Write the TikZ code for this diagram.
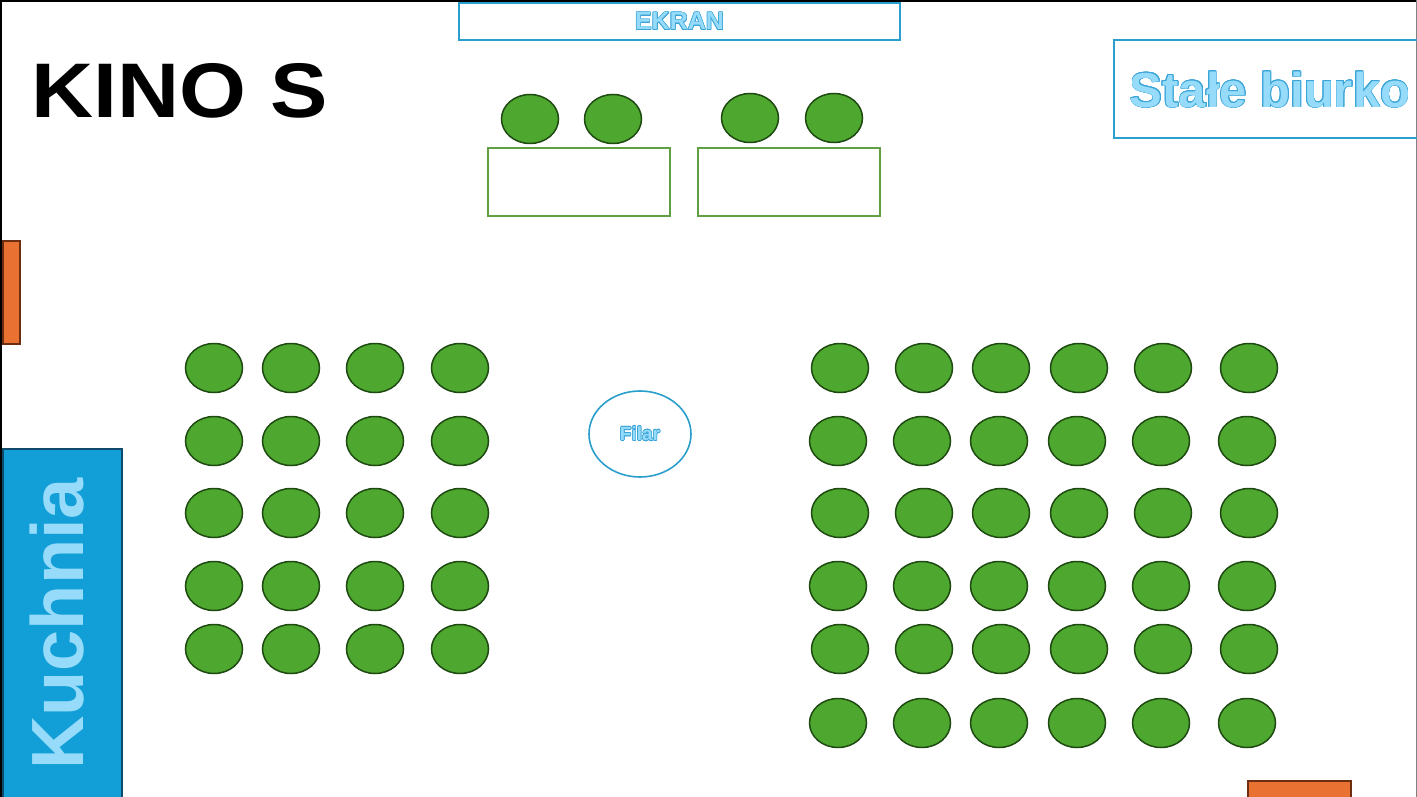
\documentclass[tikz,border=0pt]{standalone}
\usepackage{fontspec}
\setmainfont{Liberation Sans}
\usepackage{contour}
\usepackage{tikz}
\usetikzlibrary{shapes.geometric}
\usetikzlibrary{positioning}
\contourlength{0.6pt}
\definecolor{chairgreen}{RGB}{78,167,46}
\definecolor{chairedge}{RGB}{30,74,18}
\definecolor{tablegreen}{RGB}{96,160,67}
\definecolor{lineblue}{RGB}{42,158,204}
\definecolor{kitchenblue}{RGB}{18,158,215}
\definecolor{kitchenedge}{RGB}{15,74,106}
\definecolor{doororange}{RGB}{233,113,50}
\definecolor{dooredge}{RGB}{107,46,16}
\definecolor{txtblue}{RGB}{150,220,250}
\definecolor{ctrblue}{RGB}{60,165,215}
\tikzset{x=1pt, y=-1pt, % Units are the pixels of the plan
chair/.style={ % Sets the properties for each seat
ellipse, draw=chairedge, fill=chairgreen, line width=1.5pt,
minimum width=57pt, minimum height=49pt, inner sep=0pt},
table/.style={ % Tables in front of the screen
rectangle, draw=tablegreen, line width=1.4pt,
minimum width=182pt, minimum height=68pt, inner sep=0pt},
door/.style={ % Orange doors
rectangle, draw=dooredge, fill=doororange, line width=1.2pt, inner sep=0pt},
label/.style={ % Light blue outlined text
text=txtblue, font=\bfseries}}

\begin{document}
\begin{tikzpicture}
				\useasboundingbox (0,0) rectangle (1417,797);
				\draw[line width=4pt] (0,797) -- (0,0) -- (1417,0);
				\draw[gray, line width=2pt] (1417,0) -- (1417,797);

				\node[rectangle, draw=lineblue, line width=1.4pt, minimum width=441pt, minimum height=37pt, inner sep=0pt] (ekran) at (679.5,21.5) {};
				\node[label, font=\bfseries\fontsize{25}{25}\selectfont] at (ekran) {\contour{ctrblue}{EKRAN}};
				\node[font=\bfseries\fontsize{86}{86}\selectfont, inner sep=0pt, yscale=0.9] (kino) at (180,91) {KINO S};
				\node[rectangle, draw=lineblue, line width=1.6pt, minimum width=304pt, minimum height=98pt, inner sep=0pt] (biurko) at (1266,89) {};
				\node[label, font=\bfseries\fontsize{49}{49}\selectfont, inner sep=0pt] at (1270,90) {\contourlength{0.7pt}\contour{ctrblue}{Stałe biurko}};

				\node[table] (tableA) at (579,182) {};
				\node[table] (tableB) at (789,182) {};
				\node[chair] (tA1) at (530,119) {};
				\node[chair] (tA2) at (613,119) {};
				\node[chair] (tB1) at (750,118) {};
				\node[chair] (tB2) at (834,118) {};

				\node[ellipse, draw=lineblue, line width=1.6pt, minimum width=102pt, minimum height=86pt] (filar) at (640,434) {};
				\node[label, font=\bfseries\fontsize{19}{19}\selectfont] at (filar) {\contour{ctrblue}{Filar}};

				\node[rectangle, draw=kitchenedge, fill=kitchenblue, line width=1.4pt, minimum width=119pt, minimum height=360pt, inner sep=0pt] (kuchnia) at (62.5,629) {};
				\node[label, rotate=90, font=\bfseries\fontsize{74}{74}\selectfont, inner sep=0pt] at (57,624) {Kuchnia};

				\node[door, minimum width=17pt, minimum height=103pt] (doorL) at (11.5,292.5) {};
				\node[door, minimum width=103pt, minimum height=30pt] (doorR) at (1299.5,796) {};

				% Left block of seats
				\foreach \y [count=\r] in {368,441,513,586,649}
				\foreach \x [count=\c] in {214,291,375,460}
				\node[chair] (l-\r-\c) at (\x,\y) {};

				% Right block of seats, rows 1, 3, 5
				\foreach \y [count=\r] in {368,513,649}
				\foreach \x [count=\c] in {840,924,1001,1079,1163,1249}
				\node[chair] (ra-\r-\c) at (\x,\y) {};
				% Right block of seats, rows 2, 4, 6
				\foreach \y [count=\r] in {441,586,723}
				\foreach \x [count=\c] in {838,922,999,1077,1161,1247}
				\node[chair] (rb-\r-\c) at (\x,\y) {};
			\end{tikzpicture}
\end{document}
